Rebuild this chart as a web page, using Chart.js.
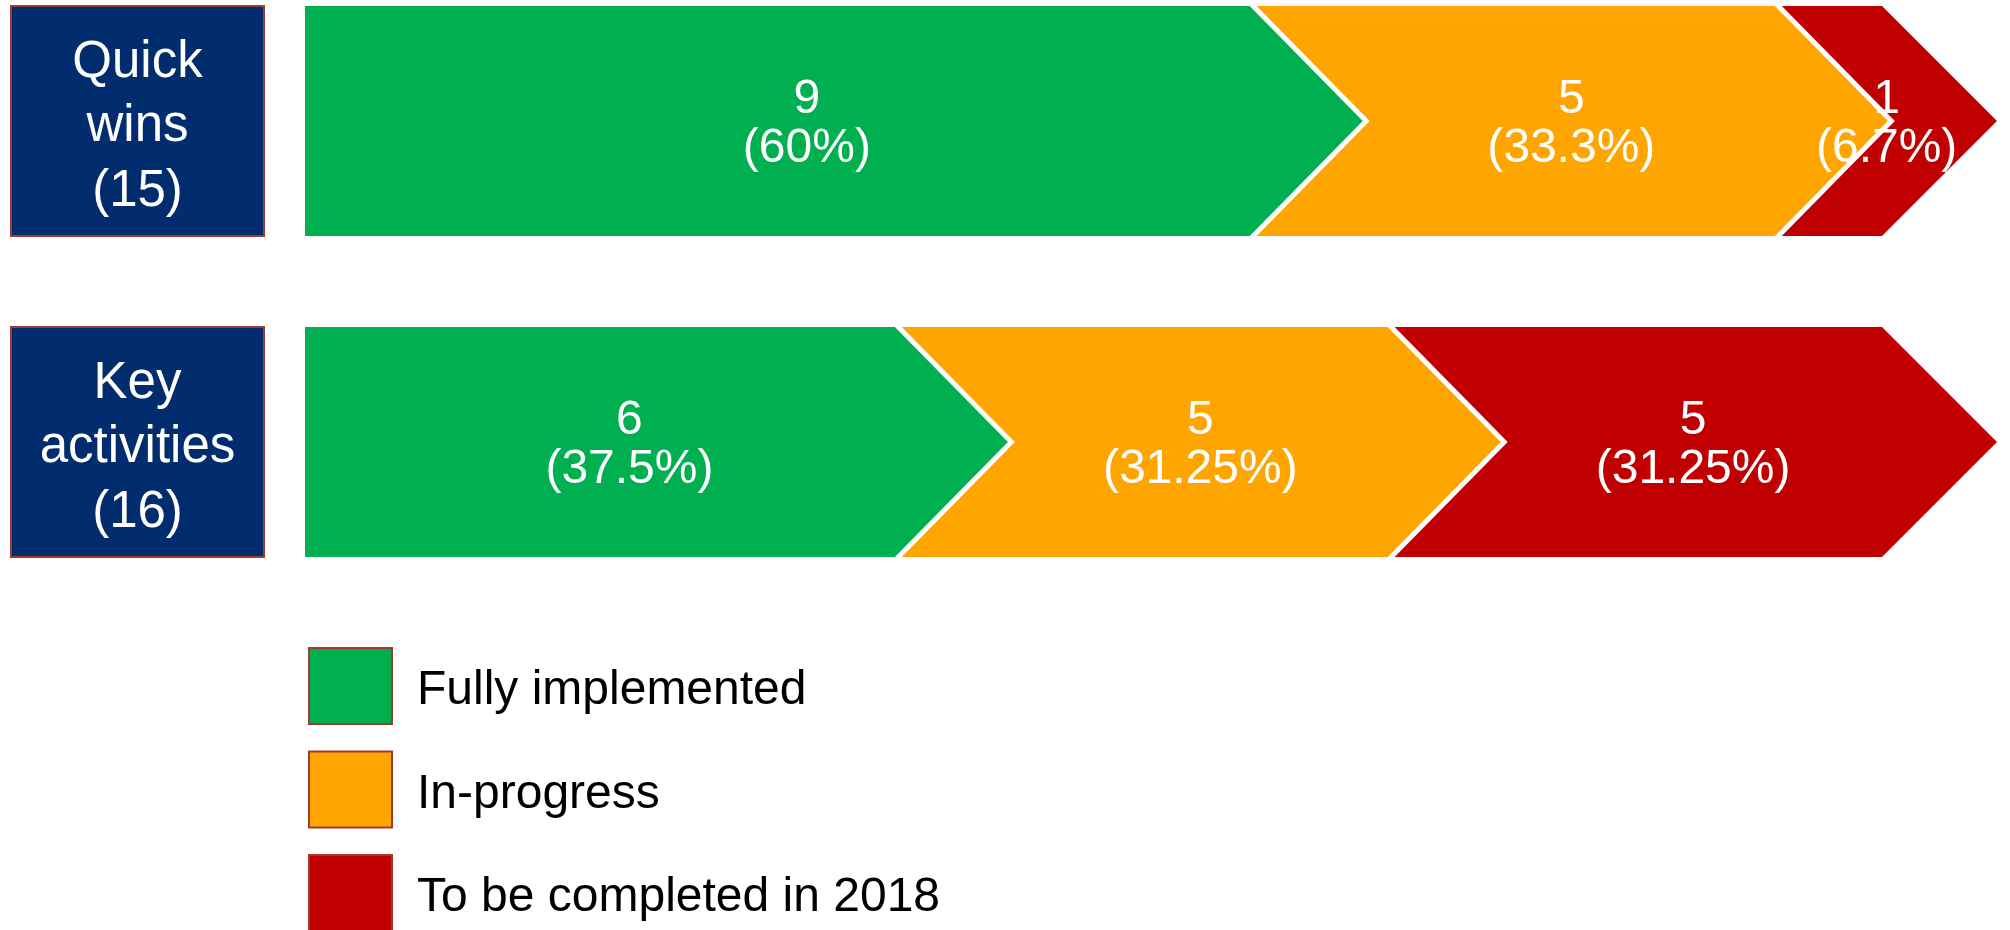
<!DOCTYPE html>
<html>
<head>
<meta charset="utf-8">
<title>Implementation status</title>
<script src="https://cdn.jsdelivr.net/npm/chart.js@4/dist/chart.umd.min.js"></script>
<style>
  html, body { margin: 0; padding: 0; background: #ffffff; }
  #wrap { width: 2010px; height: 930px; position: relative; }
</style>
</head>
<body>
<div id="wrap"><canvas id="chart" width="2010" height="930"></canvas></div>
<script>
// Activity groups (label lines; the total is added from the counts)
const categories = [['Quick', 'wins'], ['Key', 'activities']];
const seriesNames = ['Fully implemented', 'In-progress', 'To be completed in 2018'];

// Number of activities per status, per group
const fullyCounts = [9, 6];
const progressCounts = [5, 5];
const laterCounts = [1, 5];

// Share of each group, in percent
const fullyPct = [60, 37.5];
const progressPct = [33.3, 31.25];
const laterPct = [6.7, 31.25];

const seriesColors = ['#00B050', '#FFA500', '#C00000'];
const NAVY = '#012D6E';
const EDGE = '#A23A30';
const FONT = '"Liberation Sans", Arial, Helvetica, sans-serif';

const seriesCounts = [fullyCounts, progressCounts, laterCounts];
const seriesPct = [fullyPct, progressPct, laterPct];

// Arrow-shaped segments, group boxes and the legend list
const chevronPlugin = {
  id: 'chevrons',
  beforeDatasetDraw() { return false; },
  afterDatasetsDraw(chart) {
    const ctx = chart.ctx;
    const nCat = chart.data.labels.length;
    ctx.save();
    for (let j = 0; j < nCat; j++) {
      chart.data.datasets.forEach((ds, i) => {
        const el = chart.getDatasetMeta(i).data[j];
        const x0 = el.base, x1 = el.x, mid = el.y, h = el.height;
        const top = mid - h / 2, bot = mid + h / 2, d = h / 2;
        ctx.beginPath();
        ctx.moveTo(x0, top);
        ctx.lineTo(x1, top);
        ctx.lineTo(x1 + d, mid);
        ctx.lineTo(x1, bot);
        ctx.lineTo(x0, bot);
        if (i > 0) ctx.lineTo(x0 + d, mid);
        ctx.closePath();
        ctx.fillStyle = ds.backgroundColor;
        ctx.fill();
        if (i > 0) {
          ctx.beginPath();
          ctx.moveTo(x0, top - 2);
          ctx.lineTo(x0 + d, mid);
          ctx.lineTo(x0, bot + 2);
          ctx.strokeStyle = '#ffffff';
          ctx.lineWidth = 5;
          ctx.lineJoin = 'miter';
          ctx.stroke();
        }
        // value labels
        const cx = i === 0 ? (x0 + x1 + d / 2) / 2 : (x0 + x1) / 2 + d / 2;
        ctx.fillStyle = '#ffffff';
        ctx.font = '48px ' + FONT;
        ctx.textAlign = 'center';
        ctx.textBaseline = 'alphabetic';
        ctx.fillText(String(ds.counts[j]), cx, mid - 8);
        ctx.fillText('(' + ds.data[j] + '%)', cx, mid + 41);
      });
    }
    ctx.restore();
  },
  afterDraw(chart) {
    const ctx = chart.ctx;
    const yScale = chart.scales.y;
    ctx.save();
    // group boxes on the left
    chart.data.labels.forEach((lines, j) => {
      const cy = yScale.getPixelForValue(j);
      const h = chart.getDatasetMeta(0).data[j].height;
      const total = chart.data.datasets.reduce((s, ds) => s + ds.counts[j], 0);
      ctx.fillStyle = NAVY;
      ctx.fillRect(11, cy - h / 2, 253, h);
      ctx.strokeStyle = EDGE;
      ctx.lineWidth = 2;
      ctx.strokeRect(11, cy - h / 2, 253, h);
      const text = lines.concat(['(' + total + ')']);
      ctx.fillStyle = '#ffffff';
      ctx.font = '51px ' + FONT;
      ctx.textAlign = 'center';
      ctx.textBaseline = 'alphabetic';
      const offs = [-44, 20, 85];
      text.forEach((t, k) => ctx.fillText(t, 137.5, cy + offs[k]));
    });
    // legend
    chart.data.datasets.forEach((ds, i) => {
      const top = 648 + i * 103.5;
      ctx.fillStyle = ds.backgroundColor;
      ctx.fillRect(309, top, 83, 76);
      ctx.strokeStyle = EDGE;
      ctx.lineWidth = 2;
      ctx.strokeRect(309, top, 83, 76);
      ctx.fillStyle = '#000000';
      ctx.font = '48px ' + FONT;
      ctx.textAlign = 'left';
      ctx.textBaseline = 'alphabetic';
      ctx.fillText(ds.label, 417, top + 38 + 18);
    });
    ctx.restore();
  }
};

new Chart(document.getElementById('chart'), {
  type: 'bar',
  data: {
    labels: categories,
    datasets: seriesNames.map((name, i) => ({
      label: name,
      data: seriesPct[i],
      counts: seriesCounts[i],
      backgroundColor: seriesColors[i],
      barThickness: 230
    }))
  },
  options: {
    indexAxis: 'y',
    responsive: false,
    animation: false,
    devicePixelRatio: 1,
    layout: { padding: { left: 305, right: 128, top: 121, bottom: 488 } },
    plugins: { legend: { display: false }, tooltip: { enabled: false } },
    scales: {
      x: { stacked: true, min: 0, max: 100, display: false },
      y: { stacked: true, display: false, offset: false }
    }
  },
  plugins: [chevronPlugin]
});
</script>
</body>
</html>
